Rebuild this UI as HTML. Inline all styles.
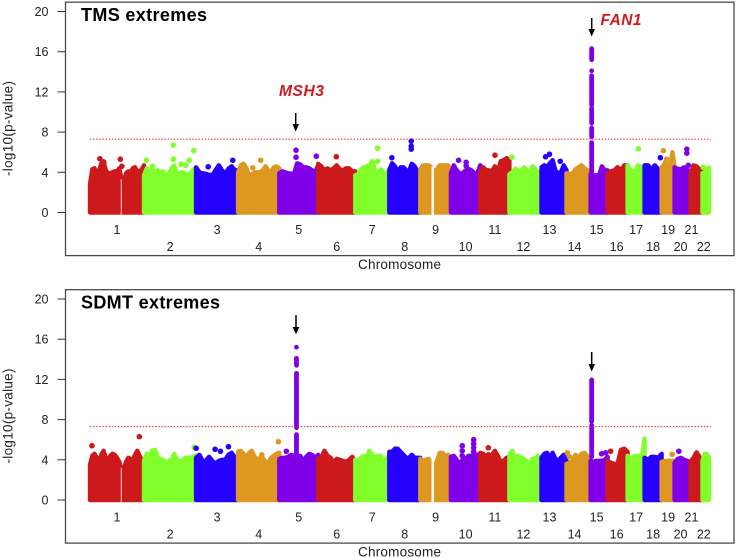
<!DOCTYPE html>
<html>
<head>
<meta charset="utf-8">
<title>Manhattan plots: TMS and SDMT extremes</title>
<style>
html,body{margin:0;padding:0;background:#fff;}
svg{display:block;font-family:"Liberation Sans",Arial,sans-serif;}
</style>
</head>
<body>
<svg id="chart" width="736" height="558" viewBox="0 0 736 558" xmlns="http://www.w3.org/2000/svg">
  <rect x="0" y="0" width="736" height="558" fill="#fff"/>
  <g id="panel-a"></g>
  <g id="panel-b"></g>

  <text x="81" y="21" font-size="18" font-weight="bold" textLength="126" lengthAdjust="spacing" fill="#000">TMS extremes</text>
  <text x="81" y="308.5" font-size="18" font-weight="bold" textLength="139" lengthAdjust="spacing" fill="#000">SDMT extremes</text>

  <text x="279" y="96" font-size="15.5" font-weight="bold" font-style="italic" textLength="45" lengthAdjust="spacing" fill="#cc1a1c">MSH3</text>
  <text x="600.5" y="25" font-size="15.5" font-weight="bold" font-style="italic" textLength="41" lengthAdjust="spacing" fill="#cc1a1c">FAN1</text>

  <g>
    <line x1="295.7" y1="113" x2="295.7" y2="125" stroke="#000" stroke-width="1.5"/>
    <polygon points="292.4,124 299,124 295.7,131.5" fill="#000"/>
  </g>
  <g>
    <line x1="591.7" y1="18" x2="591.7" y2="30" stroke="#000" stroke-width="1.5"/>
    <polygon points="588.4,29 595,29 591.7,36.5" fill="#000"/>
  </g>
  <g>
    <line x1="296" y1="315" x2="296" y2="328" stroke="#000" stroke-width="1.5"/>
    <polygon points="292.7,327 299.3,327 296,334.5" fill="#000"/>
  </g>
  <g>
    <line x1="591.7" y1="352" x2="591.7" y2="365" stroke="#000" stroke-width="1.5"/>
    <polygon points="588.4,364 595,364 591.7,371.5" fill="#000"/>
  </g>
</svg>
<script>
const chromNames = ['1','2','3','4','5','6','7','8','9','10','11','12','13','14','15','16','17','18','19','20','21','22'];
const chromLengths = [251,242,195,191,181,172,158,144,142,137,135,149,116,112,79,93,79,79,60,74,56,30];
const chromPalette = ['#cc1a1c','#80ff2b','#2600ff','#dd9822','#7f00e8'];
const labelNudge = [0,0,0,0,0,0,0,0,0,0,0,-2,-4.5,-4,-2.5,-1,0,0,0,-2,-5,-2];
const yTicks = [0,4,8,12,16,20];
const significance = 7.3;
const gapChrom = [1,9];
const gapStartMb = [143,52];
const gapEndMb = [147,64];

const tmsSkyline = [
 [2.8,4.3,4.4,4.0,4.1,4.9,5.1,4.2,3.9,3.9,4.0,4.1,4.1,4.4,3.3,3.0,3.9,4.1,4.0,4.4,4.5,4.1,4.1,4.3,4.7],
 [3.7,4.4,3.9,4.4,3.9,4.2,4.0,4.1,3.6,3.8,4.4,4.7,3.7,3.9,4.0,3.9,3.7,3.9,4.3,4.4],
 [4.5,4.0,3.9,3.85,3.75,3.7,4.2,4.7,4.2,3.85,4.35,4.6,4.2,4.2],
 [4.0,4.7,4.85,4.4,3.7,3.8,4.0,4.0,4.0,4.2,4.6,4.2,4.0,4.5,4.6,4.4],
 [3.9,4.1,4.0,3.9,3.85,3.9,4.9,4.8,4.5,4.5,4.4,4.2,4.0,4.7],
 [4.85,4.6,4.2,4.4,4.2,4.4,4.7,4.3,4.2,4.4,4.4,4.1,4.1],
 [3.7,3.8,4.3,4.5,4.6,4.7,5.1,4.2,4.0,4.3,4.0,3.7,4.4],
 [4.2,4.9,4.6,4.0,4.5,4.5,4.2,4.1,4.85,4.6,4.1,3.9],
 [4.3,4.7,4.7,4.7,4.5,4.0,4.3,4.7,4.7,4.7,4.7,4.2],
 [3.9,4.7,4.2,3.9,3.9,4.2,4.35,4.2,3.9,3.9,4.7],
 [4.0,4.5,4.2,4.2,4.1,4.6,4.0,5.1,5.2,5.4,5.3],
 [3.8,4.0,4.35,4.2,4.1,4.5,4.2,4.1,4.6,4.3,3.9,3.8],
 [4.5,4.7,4.5,4.9,5.2,4.2,3.9,4.0,4.7,4.2],
 [3.9,3.85,3.85,4.3,4.5,4.7,4.4,4.2,3.9],
 [3.8,3.7,3.7,3.7,4.6,4.2,4.2],
 [3.9,4.1,4.2,4.5,4.2,4.7,4.7],
 [4.7,4.2,3.9,4.7,4.5,4.2],
 [4.7,4.7,4.3,4.7,4.3,4.2],
 [4.5,4.7,5.2,4.4,4.4,6.0,4.6],
 [4.5,4.35,4.3,4.5,4.3,3.9],
 [3.8,4.7,4.6,4.3,4.2],
 [3.9,4.0,4.2,4.0]
];
const tmsOutliers = [
 [1,46,5.35],[1,64,5.0],[1,141,5.3],[1,148,4.6],
 [2,11,5.2],[2,136,6.7],[2,231,6.15],[2,136,5.3],[2,210,5.2],[2,172,4.8],[2,194,4.7],[2,40,4.6],
 [3,56,4.55],[3,170,5.2],
 [4,68,4.45],[4,105,5.2],
 [5,78,6.2],[5,78,5.5],[5,172,5.6],
 [6,84,5.55],
 [7,104,6.4],[7,104,5.1],
 [8,102,7.1],[8,102,6.6],[8,102,6.3],[8,12,5.45],
 [10,36,5.2],[10,71,5.0],[10,71,4.65],
 [11,68,5.7],
 [12,11,5.5],
 [13,19,5.55],[13,37,5.8],[13,87,5.1],
 [17,50,6.35],
 [18,73,5.45],
 [19,8,6.15],[19,23,5.3],
 [20,57,6.3],[20,57,5.9],[20,64,4.7],
 [22,3,4.5],[22,29,4.4]
];
const tmsSpikeChrom = 15;
const tmsSpikeMb = 5;
const tmsSpikeRanges = [[16.3,15.2],[14.1,14.1],[13.6,10.7],[10.35,8.9],[8.4,7.55],[6.95,4.0]];
const tmsGapTop = [3.3,4.6];

const sdmtSkyline = [
 [3.5,4.4,4.6,4.2,3.8,4.5,4.9,4.2,4.0,4.4,4.6,4.5,4.2,3.8,3.1,3.0,3.8,4.2,4.1,3.9,4.5,4.9,4.4,4.0,3.8],
 [3.9,4.6,4.5,4.9,5.0,4.3,4.0,4.0,3.6,3.9,4.0,4.6,4.0,3.9,3.9,4.2,4.2,4.2,4.3,4.4],
 [4.2,4.5,3.9,3.9,4.3,3.9,3.6,3.9,4.0,4.0,4.5,4.7,4.2,4.4],
 [4.8,4.9,4.6,4.3,4.7,4.9,4.3,4.0,4.2,4.2,3.8,3.7,4.2,4.4,4.6,4.7],
 [4.1,4.2,4.2,4.3,4.5,4.4,4.3,4.4,3.9,4.3,4.6,4.5,4.2,4.5],
 [4.1,4.2,4.9,4.4,4.2,3.7,4.1,4.0,3.9,3.8,4.0,4.3,3.9],
 [4.0,3.9,4.2,4.4,4.3,4.9,4.5,4.2,4.4,4.4,3.6,4.2,4.4],
 [4.8,4.8,5.1,5.1,4.8,4.5,4.2,4.2,4.5,4.2,4.2,4.2],
 [4.1,3.9,4.0,4.1,3.6,3.3,3.9,4.7,4.7,4.4,4.5,3.9],
 [4.3,4.4,4.0,3.6,4.0,4.1,4.4,4.4,4.5,4.5,4.6],
 [4.7,4.6,4.2,4.0,4.5,4.9,4.4,3.8,3.9,4.2,4.3],
 [4.5,4.9,3.9,4.4,4.2,4.1,3.8,3.7,4.1,4.2,4.4,3.7],
 [4.2,4.6,4.7,4.2,4.7,4.1,3.9,4.2,4.5,3.9],
 [3.6,3.7,3.9,4.5,4.2,4.6,4.7,4.3,3.9],
 [3.9,3.8,3.9,3.9,3.9,4.0,4.3],
 [3.9,3.7,3.6,3.6,5.0,5.1,4.8],
 [4.4,4.2,4.2,4.4,4.4,4.4,4.5,6.1],
 [4.2,4.0,4.3,4.3,4.2,4.6],
 [3.8,3.9,3.9,3.9,3.9],
 [3.7,4.1,4.2,4.0,3.9,3.8],
 [3.8,4.2,4.75,4.3,3.9],
 [3.9,4.6,4.6,4.2]
];
const sdmtOutliers = [
 [1,9,5.4],[1,229,6.3],
 [2,233,5.25],
 [3,0,5.15],[3,88,5.05],[3,113,4.85],[3,150,5.3],
 [4,187,5.8],[4,110,4.5],
 [5,33,4.85],
 [10,53,5.4],[10,53,4.9],[10,53,4.4],[10,106,6.0],[10,106,5.6],[10,106,5.2],[10,106,4.8],
 [11,37,5.2],[11,37,4.5],
 [14,4,4.7],[14,14,4.3],
 [15,51,4.6],[15,70,4.7],
 [16,14,4.85],
 [19,49,4.55],
 [20,20,4.85]
];
const sdmtSpikes = [
 {chrom:5, mb:80, ranges:[[15.2,15.2],[14.1,13.4],[12.6,7.2],[6.5,4.2]]},
 {chrom:15, mb:5, ranges:[[11.95,7.8],[7.4,4.3]]}
];
const sdmtGapTop = [3.2,4.0];

const NS = 'http://www.w3.org/2000/svg';
const genomeTotal = chromLengths.reduce((a, b) => a + b, 0);
const chromStarts = [];
chromLengths.reduce((acc, len, i) => { chromStarts[i] = acc; return acc + len; }, 0);

function xPos(chromIndex, mb) {
  return 90 + (chromStarts[chromIndex] + mb) / genomeTotal * 619;
}
function yPos(top, value) {
  return top + 212.5 - value * 10.05;
}
function make(parent, tag, attrs) {
  const el = document.createElementNS(NS, tag);
  for (const key in attrs) el.setAttribute(key, attrs[key]);
  parent.appendChild(el);
  return el;
}

function drawPanel(group, top, skyline, outliers, spikes, gapTops, prefix) {
  const box = make(group, 'rect', {x:65.5, y:top + 2.2, width:668.5, height:253.4, fill:'none', stroke:'#4a4a4a', 'stroke-width':1.3});
  
  

  yTicks.forEach(t => {
    const y = yPos(top, t);
    const tick = make(group, 'line', {x1:57.5, x2:65.5, y1:y, y2:y, stroke:'#333', 'stroke-width':1});
    
    
    const lab = make(group, 'text', {x:48.5, y:y + 4.5, 'text-anchor':'end', 'font-size':12.5, fill:'#222'});
    
    
    lab.textContent = t;
  });

  const yTitleY = top + 128.5;
  const yTitle = make(group, 'text', {transform:'translate(12.5,' + yTitleY + ') rotate(-90)', 'text-anchor':'middle', 'font-size':13.5, fill:'#222', textLength:95, lengthAdjust:'spacing'});
  
  
  yTitle.textContent = '-log10(p-value)';

  const xTitle = make(group, 'text', {x:358, y:top + 269, 'font-size':13.5, fill:'#222', textLength:83, lengthAdjust:'spacing'});
  
  
  xTitle.textContent = 'Chromosome';

  chromNames.forEach((name, i) => {
    const color = chromPalette[i % chromPalette.length];
    const values = skyline[i];
    const len = chromLengths[i];
    const pts = values.map((v, j) => xPos(i, len * j / (values.length - 1)).toFixed(1) + ',' + yPos(top, v).toFixed(1));
    pts.push(xPos(i, len).toFixed(1) + ',' + yPos(top, 0).toFixed(1));
    pts.push(xPos(i, 0).toFixed(1) + ',' + yPos(top, 0).toFixed(1));
    const area = make(group, 'polygon', {points:pts.join(' '), fill:color, stroke:color, 'stroke-width':4.4, 'stroke-linejoin':'round'});
    
    

    gapChrom.forEach((g, k) => {
      if (g !== i + 1) return;
      const gx = xPos(i, gapStartMb[k]);
      const gw = xPos(i, gapEndMb[k]) - gx;
      const gy = yPos(top, gapTops[k]);
      const gap = make(group, 'rect', {x:gx, y:gy, width:gw, height:yPos(top, -0.3) - gy, fill:'#fff', opacity:0.9});
      
      
    });

    outliers.filter(o => o[0] === i + 1).forEach(o => {
      const dot = make(group, 'circle', {cx:xPos(i, o[1]), cy:yPos(top, o[2]), r:2.8, fill:color});
      
      
    });

    spikes.filter(s => s.chrom === i + 1).forEach(s => {
      s.ranges.forEach(r => {
        const x = xPos(i, s.mb);
        const seg = make(group, 'line', {x1:x, x2:x, y1:yPos(top, r[0]), y2:yPos(top, r[1]), stroke:color, 'stroke-width':4.8, 'stroke-linecap':'round'});
        
        
      });
    });

    const lx = xPos(i, len / 2) + labelNudge[i];
    const ly = top + (i % 2 === 0 ? 234 : 251);
    const lab = make(group, 'text', {x:lx, y:ly, 'text-anchor':'middle', 'font-size':12.5, fill:'#222'});
    
    
    lab.textContent = name;
  });

  const sigY = yPos(top, significance);
  const sig = make(group, 'line', {x1:90, x2:710.7, y1:sigY, y2:sigY, stroke:'#dd2a2a', 'stroke-width':1.1, 'stroke-dasharray':'1.5 1.6'});
  
  
}

drawPanel(document.getElementById('panel-a'), 0, tmsSkyline, tmsOutliers,
  [{chrom:tmsSpikeChrom, mb:tmsSpikeMb, ranges:tmsSpikeRanges}], tmsGapTop, 'tms');
drawPanel(document.getElementById('panel-b'), 287.5, sdmtSkyline, sdmtOutliers, sdmtSpikes, sdmtGapTop, 'sdmt');
</script>
</body>
</html>
